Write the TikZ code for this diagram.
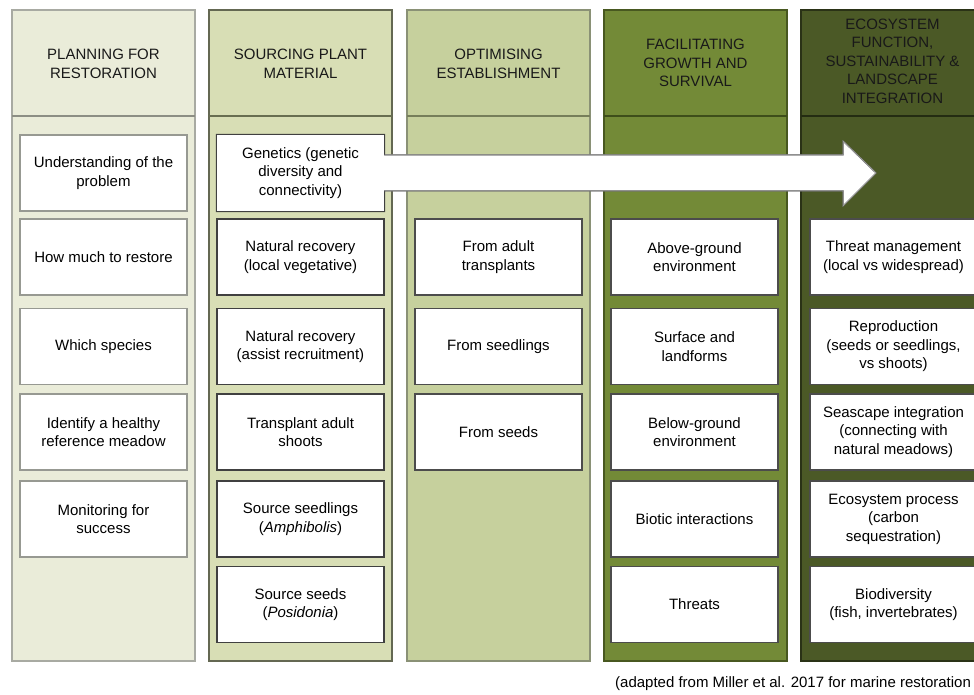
\documentclass[tikz,border=0pt]{standalone}
\usepackage{fontspec}
\setmainfont{Liberation Sans}
\usetikzlibrary{calc}

\definecolor{fillA}{RGB}{234,236,217}
\definecolor{fillB}{RGB}{216,222,181}
\definecolor{fillC}{RGB}{198,208,157}
\definecolor{fillD}{RGB}{115,138,55}
\definecolor{fillE}{RGB}{75,89,38}
\definecolor{lineA}{RGB}{168,170,162}
\definecolor{lineB}{RGB}{100,104,82}
\definecolor{lineC}{RGB}{138,145,118}
\definecolor{lineD}{RGB}{72,88,32}
\definecolor{lineE}{RGB}{42,50,22}
\definecolor{sepA}{RGB}{140,142,132}
\definecolor{sepB}{RGB}{104,110,80}
\definecolor{sepC}{RGB}{118,126,90}
\definecolor{sepD}{RGB}{62,78,26}
\definecolor{sepE}{RGB}{36,44,18}
\definecolor{inkdark}{RGB}{25,25,25}

\pgfdeclarelayer{cols}
\pgfdeclarelayer{arrowlayer}
\pgfsetlayers{cols,arrowlayer,main}

\tikzset{
  phase/.style={draw, line width=1.2pt, minimum width=183pt, minimum height=651pt,
    anchor=north west, inner sep=0pt, outer sep=0pt},
  sepline/.style={line width=1.2pt},
  headtxt/.style={align=center, text=inkdark, inner sep=0pt,
    font=\fontsize{15}{18.5}\selectfont},
  item/.style={draw, fill=white, line width=1.3pt, minimum width=167pt, minimum height=76pt,
    align=center, inner sep=2pt, text=black, font=\fontsize{15}{18.5}\selectfont},
  itemA/.style={item, draw=lineA!90!black},
  itemB/.style={item, draw=black!75},
  itemC/.style={item, draw=black!70},
  flowarrow/.style={fill=white, draw=black!40, line width=1pt, line join=miter},
  captxt/.style={text=black, inner sep=0pt, font=\fontsize{15}{18}\selectfont}
}

\begin{document}
\begin{tikzpicture}[x=1pt,y=-1pt]
\useasboundingbox (0,0) rectangle (974,695);
\clip (0,0) rectangle (974,695);

% phase columns
\begin{pgfonlayer}{cols}
\node[phase, fill=fillA, draw=lineA] (colA) at (12,10) {};
\node[phase, fill=fillB, draw=lineB] (colB) at (209,10) {};
\node[phase, fill=fillC, draw=lineC] (colC) at (407,10) {};
\node[phase, fill=fillD, draw=lineD] (colD) at (604,10) {};
\node[phase, fill=fillE, draw=lineE] (colE) at (801,10) {};
\draw[sepline, sepA] ($(colA.north west)+(0,106)$) -- ($(colA.north east)+(0,106)$);
\draw[sepline, sepB] ($(colB.north west)+(0,106)$) -- ($(colB.north east)+(0,106)$);
\draw[sepline, sepC] ($(colC.north west)+(0,106)$) -- ($(colC.north east)+(0,106)$);
\draw[sepline, sepD] ($(colD.north west)+(0,106)$) -- ($(colD.north east)+(0,106)$);
\draw[sepline, sepE] ($(colE.north west)+(0,106)$) -- ($(colE.north east)+(0,106)$);
\end{pgfonlayer}

% column headings
\node[headtxt] (hA) at (103.5,64) {PLANNING FOR\\RESTORATION};
\node[headtxt] (hB) at (300.5,64) {SOURCING PLANT\\MATERIAL};
\node[headtxt] (hC) at (498.5,64) {OPTIMISING\\ESTABLISHMENT};
\node[headtxt] (hD) at (695.5,63) {FACILITATING\\GROWTH AND\\SURVIVAL};
\node[headtxt] (hE) at (892.5,61) {ECOSYSTEM\\FUNCTION,\\SUSTAINABILITY \&\\LANDSCAPE\\INTEGRATION};

% planning
\node[itemA] (a1) at (103.5,173) {Understanding of the\\problem};
\node[itemA] (a2) at (103.5,257) {How much to restore};
\node[itemA] (a3) at (103.5,346.5) {Which species};
\node[itemA] (a4) at (103.5,432) {Identify a healthy\\reference meadow};
\node[itemA] (a5) at (103.5,519) {Monitoring for\\success};

% sourcing plant material; the first box carries the long arrow
\node[item, draw=none, fill=none] (gen) at (300.5,173) {Genetics (genetic\\diversity and\\connectivity)};
\begin{pgfonlayer}{arrowlayer}
\draw[flowarrow, draw=black!75] (gen.north west) -- (gen.north east)
  -- ($(gen.east)+(0,-18)$) -- (843,155) -- (843,141) -- (876,173)
  -- (843,206) -- (843,191) -- ($(gen.east)+(0,18)$)
  -- (gen.south east) -- (gen.south west) -- cycle;
\draw[black!40, line width=1pt] ($(gen.east)+(0,-18)$) -- (843,155) -- (843,141) -- (876,173)
  -- (843,206) -- (843,191) -- ($(gen.east)+(0,18)$);
\end{pgfonlayer}
\node[itemB] (b2) at (300.5,257) {Natural recovery\\(local vegetative)};
\node[itemB] (b3) at (300.5,346.5) {Natural recovery\\(assist recruitment)};
\node[itemB] (b4) at (300.5,432) {Transplant adult\\shoots};
\node[itemB] (b5) at (300.5,519) {Source seedlings\\(\textit{Amphibolis})};
\node[itemB] (b6) at (300.5,604.5) {Source seeds\\(\textit{Posidonia})};

% optimising establishment
\node[itemC] (c2) at (498.5,257) {From adult\\transplants};
\node[itemC] (c3) at (498.5,346.5) {From seedlings};
\node[itemC] (c4) at (498.5,432) {From seeds};

% facilitating growth and survival
\node[itemC] (d2) at (694.5,257) {Above-ground\\environment};
\node[itemC] (d3) at (694.5,346.5) {Surface and\\landforms};
\node[itemC] (d4) at (694.5,432) {Below-ground\\environment};
\node[itemC] (d5) at (694.5,519) {Biotic interactions};
\node[itemC] (d6) at (694.5,604.5) {Threats};

% ecosystem function
\node[itemC] (e2) at (893.5,257) {Threat management\\(local vs widespread)};
\node[itemC] (e3) at (893.5,346.5) {Reproduction\\(seeds or seedlings,\\vs shoots)};
\node[itemC] (e4) at (893.5,432) {Seascape integration\\(connecting with\\natural meadows)};
\node[itemC] (e5) at (893.5,519) {Ecosystem process\\(carbon\\sequestration)};
\node[itemC] (e6) at (893.5,604.5) {Biodiversity\\(fish, invertebrates)};

% source note
\node[captxt, anchor=west] (cap) at (615,684) {(adapted from Miller et al. 2017 for marine restoration};
\end{tikzpicture}
\end{document}
